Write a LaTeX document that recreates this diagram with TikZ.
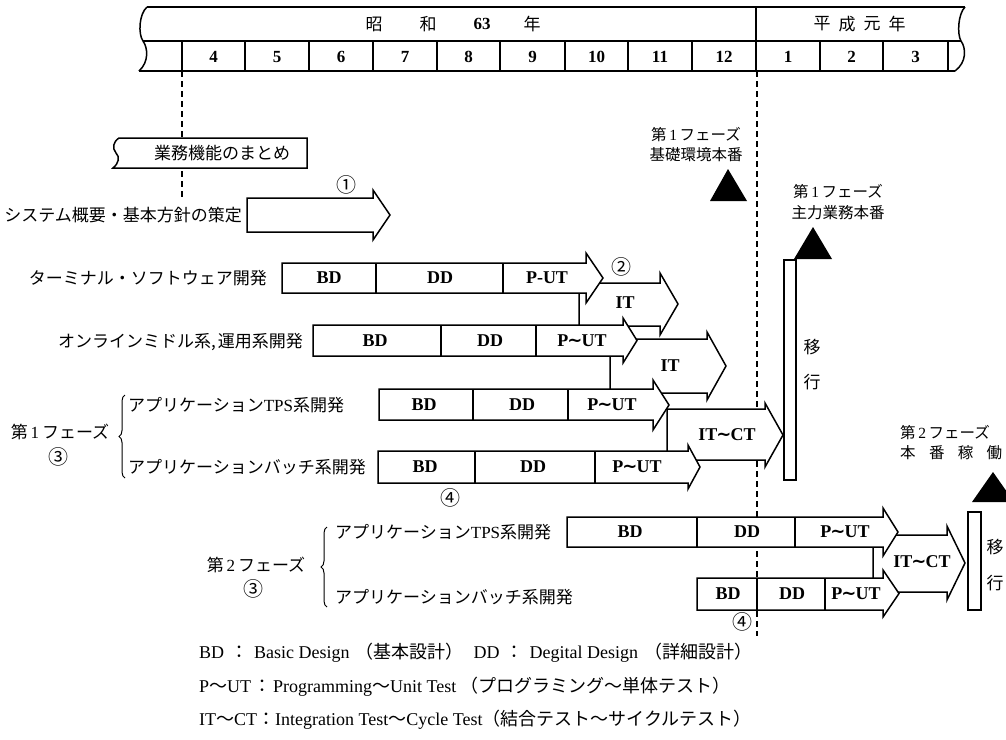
\documentclass[tikz,border=0pt]{standalone}
\usepackage{fontspec}
\setmainfont{Liberation Serif}
\newfontfamily\jp{Noto Sans CJK JP}
\newfontfamily\dvs{DejaVu Sans}
\usetikzlibrary{decorations.pathreplacing}
\newcommand{\tld}{{\dvs\kern-0.05em∼\kern-0.05em}}
\newcommand{\wtl}{{\jp ～}}
% xs xh xt yt yb ht hb
\newcommand{\garrow}[7]{%
  \draw[blk] (#1,#4) -- (#2,#4) -- (#2,#6) -- (#3,{(#6+#7)/2}) -- (#2,#7) -- (#2,#5) -- (#1,#5) -- cycle;}
\begin{document}
\begin{tikzpicture}[x=1pt,y=-1pt,line join=miter,
  frm/.style={line width=1.5pt},
  blk/.style={draw,line width=1.5pt,fill=white},
  dsh/.style={line width=1.3pt,dash pattern=on 6pt off 4pt},
  lab/.style={font=\fontsize{18}{20}\selectfont\bfseries,inner sep=0pt},
  jl/.style={font=\fontsize{17}{20}\selectfont\jp,inner sep=0pt},
  js/.style={font=\fontsize{15.5}{19}\selectfont\jp,inner sep=0pt},
  cn/.style={font=\fontsize{20}{22}\selectfont\jp,inner sep=0pt},
  num/.style={font=\fontsize{17}{20}\selectfont\bfseries,inner sep=0pt},
  leg/.style={font=\fontsize{18}{20}\selectfont,inner sep=0pt,anchor=west},
  brc/.style={decorate,decoration={brace,amplitude=6pt},line width=1pt}]
\useasboundingbox (0,0) rectangle (1006,739);
\fill[white] (0,0) rectangle (1006,739);

% ---------- header ----------
\draw[frm] (147,7) -- (965,7);
\draw[frm] (143,41) -- (961,41);
\draw[frm] (139,71) -- (955,71);
\draw[frm] (147,7) .. controls (139,14) and (138,34) .. (143,41) .. controls (148,48) and (149,62) .. (139,71);
\draw[frm] (965,7) .. controls (958,14) and (957,34) .. (961,41) .. controls (966,48) and (967,62) .. (955,71);
\draw[frm] (756,7) -- (756,71);
\foreach \x in {182,245,309,373,437,500,565,628,692,820,883,948}
  \draw[frm] (\x,41) -- (\x,71);
\node[jl] (sho) at (374,24) {昭};
\node[jl] (wa) at (428,24) {和};
\node[num] (y63) at (482,24) {63};
\node[jl] (nen) at (532,24) {年};
\node[jl] (hei) at (822,24) {平};
\node[jl] (sei) at (847,24) {成};
\node[jl] (gan) at (872,24) {元};
\node[jl] (nen2) at (897,24) {年};
\foreach \m/\x in {4/213.5,5/277,6/341,7/405,8/468.5,9/532.5,10/596.5,11/660,12/724,1/788,2/851.5,3/915.5}
  \node[num] (m\m) at (\x,57) {\m};

% ---------- dashed time lines ----------
\draw[dsh] (182,71) -- (182,198);
\draw[dsh] (757,71) -- (757,636);

% ---------- summary box ----------
\draw[blk] (119,138) -- (307,138) -- (307,168) -- (113,168)
  .. controls (119,163) and (120,157) .. (116,153)
  .. controls (112,148) and (113,142) .. (119,138) -- cycle;
\node[jl] (gyomu) at (222,153) {業務機能のまとめ};

% ---------- row 1 ----------
\node[jl,anchor=east] (l1) at (242,215) {システム概要・基本方針の策定};
\garrow{247}{373}{390}{198}{232}{190}{240}
\node[cn] (c1) at (346,185) {①};

% ---------- phase 1 back arrows ----------
\garrow{579}{660}{678}{283}{326}{273}{335}
\node[lab] (it1) at (625,303) {IT};
\garrow{610}{707}{726}{339}{393}{332}{400}
\node[lab] (it2) at (670,366) {IT};
\garrow{667}{765}{783}{409}{460}{403}{467}
\node[lab] (itct1) at (727,435) {IT\tld CT};

% ---------- terminal ----------
\node[jl,anchor=east] (l2) at (267,278) {ターミナル・ソフトウェア開発};
\garrow{282}{586}{603}{263}{293}{253}{303}
\draw[frm] (376,263) -- (376,293);
\draw[frm] (503,263) -- (503,293);
\node[lab] (t1) at (329,278) {BD};
\node[lab] (t2) at (440,278) {DD};
\node[lab] (t3) at (547,278) {P-UT};
\node[cn] (c2) at (621,267) {②};

% ---------- online ----------
\node[jl,anchor=east] (l3) at (303,342) {オンラインミドル系,\kern2pt 運用系開発};
\garrow{313}{623}{637}{325}{356}{318}{363}
\draw[frm] (441,325) -- (441,356);
\draw[frm] (536,325) -- (536,356);
\node[lab] (o1) at (375,341) {BD};
\node[lab] (o2) at (490,341) {DD};
\node[lab] (o3) at (582,341) {P\tld UT};

% ---------- phase 1 TPS ----------
\node[jl,anchor=west] (l4) at (128,405) {アプリケーション{\rmfamily TPS}系開発};
\garrow{379}{653}{669}{389}{420}{380}{430}
\draw[frm] (473,389) -- (473,420);
\draw[frm] (568,389) -- (568,420);
\node[lab] (p1) at (424,405) {BD};
\node[lab] (p2) at (522,405) {DD};
\node[lab] (p3) at (612,405) {P\tld UT};

% ---------- phase 1 batch ----------
\node[jl,anchor=west] (l5) at (128,467) {アプリケーションバッチ系開発};
\garrow{378}{688}{700}{451}{483}{445}{489}
\draw[frm] (475,451) -- (475,483);
\draw[frm] (595,451) -- (595,483);
\node[lab] (b1) at (425,467) {BD};
\node[lab] (b2) at (533,467) {DD};
\node[lab] (b3) at (637,467) {P\tld UT};
\node[cn] (c4a) at (450,498) {④};

\draw[brc] (125,478) -- (125,395);
\node[jl] (ph1) at (60,432) {第\,{\rmfamily 1}\,フェーズ};
\node[cn] (c3a) at (58,457) {③};

% ---------- phase 1 go-live ----------
\draw[blk] (784,260) rectangle (796,480);
\node[jl] (ik1) at (812,347) {移};
\node[jl] (gy1) at (812,382) {行};
\fill (728,169) -- (747,201) -- (710,201) -- cycle;
\node[js] (k1a) at (696,135) {第\,{\rmfamily 1}\,フェーズ};
\node[js] (k1b) at (696,155) {基礎環境本番};
\fill (813,227) -- (832,259) -- (794,259) -- cycle;
\node[js] (k2a) at (838,192) {第\,{\rmfamily 1}\,フェーズ};
\node[js] (k2b) at (838,213) {主力業務本番};

% ---------- phase 2 ----------
\garrow{873}{947}{965}{535}{592}{526}{600}
\node[lab] (itct2) at (922,562) {IT\tld CT};

\node[jl,anchor=west] (l6) at (335,532) {アプリケーション{\rmfamily TPS}系開発};
\garrow{567}{883}{898}{517}{547}{508}{556}
\draw[frm] (697,517) -- (697,547);
\draw[frm] (795,517) -- (795,547);
\node[lab] (q1) at (630,532) {BD};
\node[lab] (q2) at (747,532) {DD};
\node[lab] (q3) at (845,532) {P\tld UT};

\node[jl,anchor=west] (l7) at (335,597) {アプリケーションバッチ系開発};
\garrow{697}{883}{899}{578}{610}{570}{617}
\draw[frm] (757,578) -- (757,610);
\draw[frm] (825,578) -- (825,610);
\node[lab] (r1) at (728,594) {BD};
\node[lab] (r2) at (792,594) {DD};
\node[lab] (r3) at (856,594) {P\tld UT};
\node[cn] (c4b) at (742,622) {④};

\draw[brc] (327,607) -- (327,527);
\node[jl] (ph2) at (256,565) {第\,{\rmfamily 2}\,フェーズ};
\node[cn] (c3b) at (253,589) {③};

\draw[blk] (968,512) rectangle (981,610);
\node[jl] (ik2) at (995,547) {移};
\node[jl] (gy2) at (995,583) {行};
\fill (993,472) -- (1014,502) -- (972,502) -- cycle;
\node[js,anchor=west] (k3a) at (900,433) {第\,{\rmfamily 2}\,フェーズ};
\node[js,anchor=west] (k3b) at (900,453) {\makebox[102pt][s]{本\hfill 番\hfill 稼\hfill 働}};

% ---------- legend ----------
\node[leg] (lg1) at (199,653) {BD\hspace{6pt}{\jp ：}\hspace{6pt}Basic Design\hspace{6pt}{\jp （基本設計）}\hspace{10pt}DD\hspace{6pt}{\jp ：}\hspace{6pt}Degital Design\hspace{6pt}{\jp （詳細設計）}};
\node[leg] (lg2) at (199,687) {P\wtl UT\hspace{2pt}{\jp ：}\hspace{2pt}Programming\wtl Unit Test\hspace{4pt}{\jp （プログラミング〜単体テスト）}};
\node[leg] (lg3) at (199,720) {IT\wtl CT{\jp ：}Integration Test\wtl Cycle Test{\jp （結合テスト〜サイクルテスト）}};
\end{tikzpicture}
\end{document}
